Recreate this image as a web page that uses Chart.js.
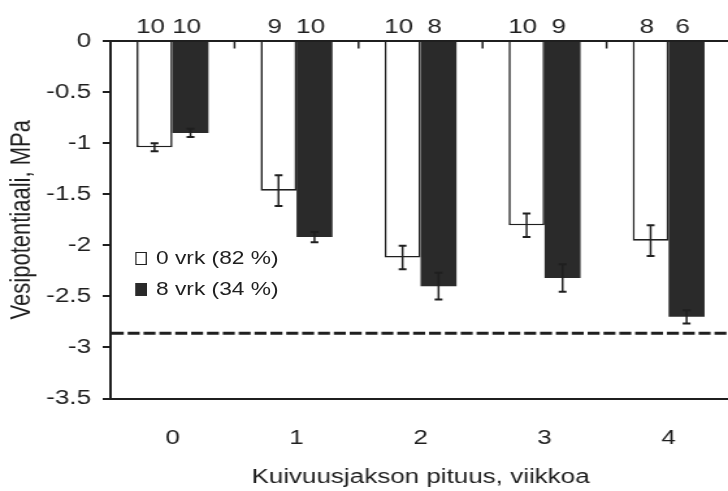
<!DOCTYPE html>
<html>
<head>
<meta charset="utf-8">
<script src="https://cdn.jsdelivr.net/npm/chart.js@4.4.1/dist/chart.umd.min.js"></script>
<style>
    html, body { margin: 0; padding: 0; background: #fff; overflow: hidden; }
    #wrap {
        position: relative;
        width: 563px;
        height: 491px;
        transform: scaleX(1.3);
        transform-origin: 0 0;
    }
    #chart { position: absolute; left: 0; top: 0; }
    .legend-row {
        position: absolute;
        left: 104px;
        height: 22px;
        line-height: 22px;
        font: 17.5px "Liberation Sans", Arial, sans-serif;
        color: #1f1f1f;
        white-space: nowrap;
    }
    .legend-box {
        position: absolute;
        left: 0;
        top: 4px;
        width: 8.5px;
        height: 13px;
        box-sizing: border-box;
    }
    .legend-text { position: absolute; left: 16px; top: 0; }
</style>
</head>
<body>
<div id="wrap">
    <canvas id="chart" width="563" height="491"></canvas>
</div>
<script>
// Data
const categories = ['0', '1', '2', '3', '4'];
const seriesNames = ['0 vrk (82 %)', '8 vrk (34 %)'];

const vrk0Means = [-1.04, -1.465, -2.12, -1.805, -1.955];
const vrk0Errors = [0.04, 0.15, 0.115, 0.115, 0.15];
const vrk0Counts = [10, 9, 10, 10, 8];

const vrk8Means = [-0.90, -1.92, -2.40, -2.32, -2.70];
const vrk8Errors = [0.04, 0.05, 0.13, 0.135, 0.065];
const vrk8Counts = [10, 10, 8, 9, 6];

const limitValue = -2.86;

const yMin = -3.5;
const yMax = 0;
const yStep = 0.5;

const ink = '#1f1f1f';
const darkBar = '#2a2a2a';
const fontFamily = '"Liberation Sans", Arial, sans-serif';

const errors = [vrk0Errors, vrk8Errors];
const counts = [vrk0Counts, vrk8Counts];

// error bars, n labels, limit line and top category ticks
const extrasPlugin = {
    id: 'extras',
    afterDatasetsDraw(chart) {
        const ctx = chart.ctx;
        const yScale = chart.scales.y;
        const xScale = chart.scales.x;
        const area = chart.chartArea;
        const y0 = yScale.getPixelForValue(0);

        ctx.save();
        ctx.strokeStyle = ink;

        // small ticks on the zero line between categories
        ctx.lineWidth = 1.5;
        for (let i = 1; i < categories.length; i++) {
            const xb = (xScale.getPixelForValue(i - 1) + xScale.getPixelForValue(i)) / 2;
            ctx.beginPath();
            ctx.moveTo(xb, y0);
            ctx.lineTo(xb, y0 + 7.5);
            ctx.stroke();
        }

        // error bars
        chart.data.datasets.forEach((ds, d) => {
            const meta = chart.getDatasetMeta(d);
            meta.data.forEach((bar, j) => {
                const v = ds.data[j];
                const e = errors[d][j];
                const yt = yScale.getPixelForValue(v + e);
                const yb = yScale.getPixelForValue(v - e);
                ctx.lineWidth = 1.5;
                ctx.beginPath();
                ctx.moveTo(bar.x, yt);
                ctx.lineTo(bar.x, yb);
                ctx.stroke();
                ctx.lineWidth = 2;
                ctx.beginPath();
                ctx.moveTo(bar.x - 3, yt);
                ctx.lineTo(bar.x + 3, yt);
                ctx.moveTo(bar.x - 3, yb);
                ctx.lineTo(bar.x + 3, yb);
                ctx.stroke();
            });
        });

        // n labels above the bars
        ctx.fillStyle = ink;
        ctx.font = '20px ' + fontFamily;
        ctx.textAlign = 'center';
        ctx.textBaseline = 'middle';
        chart.data.datasets.forEach((ds, d) => {
            const meta = chart.getDatasetMeta(d);
            meta.data.forEach((bar, j) => {
                ctx.fillText(String(counts[d][j]), bar.x - 3, area.top - 14);
            });
        });

        // dashed limit line
        const yl = yScale.getPixelForValue(limitValue);
        ctx.lineWidth = 3;
        ctx.setLineDash([9.2, 3]);
        ctx.beginPath();
        ctx.moveTo(area.left + 1, yl);
        ctx.lineTo(area.right, yl);
        ctx.stroke();
        ctx.restore();
    }
};

const canvas = document.getElementById('chart');
const chart = new Chart(canvas.getContext('2d'), {
    type: 'bar',
    data: {
        labels: categories,
        datasets: [
            {
                label: seriesNames[0],
                data: vrk0Means,
                backgroundColor: '#ffffff',
                borderColor: ink,
                borderWidth: 1.6,
                borderSkipped: 'start'
            },
            {
                label: seriesNames[1],
                data: vrk8Means,
                backgroundColor: darkBar,
                borderWidth: 0
            }
        ]
    },
    options: {
        responsive: false,
        animation: false,
        devicePixelRatio: 1,
        layout: {
            padding: { top: 41, right: 1, bottom: 2, left: 0 }
        },
        datasets: {
            bar: {
                categoryPercentage: 0.58,
                barPercentage: 1.0
            }
        },
        plugins: {
            legend: { display: false },
            tooltip: { enabled: false }
        },
        scales: {
            x: {
                offset: true,
                afterFit(scale) {
                    scale.height = 90.5;
                },
                grid: { display: false, drawTicks: false },
                border: { display: true, color: ink, width: 2 },
                ticks: {
                    color: ink,
                    padding: 28,
                    font: { family: fontFamily, size: 20 }
                },
                title: {
                    display: true,
                    text: 'Kuivuusjakson pituus, viikkoa',
                    color: ink,
                    font: { family: fontFamily, size: 20 },
                    padding: { top: 14.5, bottom: 0 }
                }
            },
            y: {
                min: yMin,
                max: yMax,
                afterFit(scale) {
                    scale.width = 85;
                },
                grid: {
                    drawOnChartArea: true,
                    color: (c) => (c.tick && c.tick.value === 0 ? ink : 'rgba(0,0,0,0)'),
                    tickColor: ink,
                    tickLength: 6,
                    lineWidth: 2
                },
                border: { display: true, color: ink, width: 2 },
                ticks: {
                    stepSize: yStep,
                    color: ink,
                    padding: 9,
                    font: { family: fontFamily, size: 20 },
                    callback: (value) => String(Math.round(value * 10) / 10)
                },
                title: {
                    display: true,
                    text: 'Vesipotentiaali, MPa',
                    color: ink,
                    font: { family: fontFamily, size: 22 },
                    padding: { top: 4, bottom: 0 }
                }
            }
        }
    },
    plugins: [extrasPlugin]
});

// legend inside the plot area
const wrap = document.getElementById('wrap');
const legendFills = ['#ffffff', darkBar];
const legendCenters = [259, 290];
seriesNames.forEach((name, i) => {
    const row = document.createElement('div');
    row.className = 'legend-row';
    row.style.top = (legendCenters[i] - 11) + 'px';
    const box = document.createElement('div');
    box.className = 'legend-box';
    box.style.background = legendFills[i];
    box.style.border = '1.5px solid ' + (i === 0 ? ink : darkBar);
    const text = document.createElement('span');
    text.className = 'legend-text';
    text.textContent = name;
    row.appendChild(box);
    row.appendChild(text);
    wrap.appendChild(row);
});
</script>
</body>
</html>
